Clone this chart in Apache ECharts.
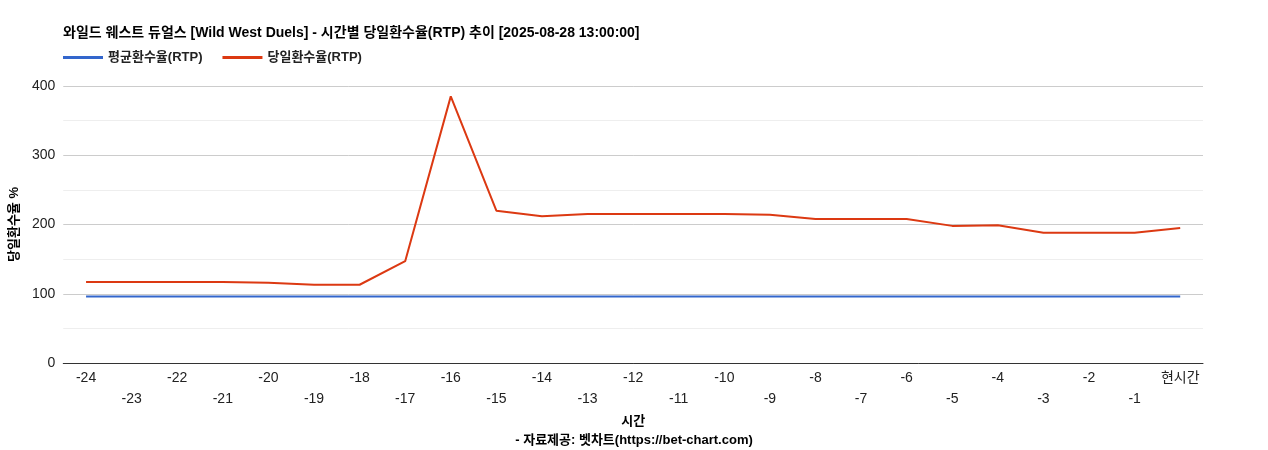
<!DOCTYPE html>
<html><head><meta charset="utf-8">
<script src="https://cdn.jsdelivr.net/npm/echarts@6/dist/echarts.min.js"></script>
<style>html,body{margin:0;padding:0;background:#fff}#c{width:1268px;height:450px}</style>
</head><body><div id="c"></div>
<script>
const categories = ['-24','-23','-22','-21','-20','-19','-18','-17','-16','-15','-14','-13','-12','-11','-10','-9','-8','-7','-6','-5','-4','-3','-2','-1','현시간'];
const avgRtp = [96,96,96,96,96,96,96,96,96,96,96,96,96,96,96,96,96,96,96,96,96,96,96,96,96];
const dailyRtp = [117,117,117,117,116,113,113,147,385,220,212,215,215,215,215,214,208,208,208,198,199,188,188,188,195];
const yTicks = [0,100,200,300,400];
const font = '"Liberation Sans", Arial, "Noto Sans CJK KR", sans-serif';
const chart = echarts.init(document.getElementById('c'));
chart.setOption({
  animation:false,
  textStyle:{fontFamily:font},
  title:[{text:'와일드 웨스트 듀얼스 [Wild West Duels] - 시간별 당일환수율(RTP) 추이 [2025-08-28 13:00:00]',left:58,top:21,textStyle:{fontSize:14,fontWeight:'bold',color:'#000',fontFamily:font}},
         {text:'- 자료제공: 벳차트(https://bet-chart.com)',left:'center',top:429,textStyle:{fontSize:13,fontWeight:'bold',color:'#000',fontFamily:font}}],
  legend:{left:58,top:46,itemWidth:40,itemHeight:3,itemGap:20,icon:'rect',textStyle:{fontSize:13,fontWeight:'bold',color:'#222',fontFamily:font},
    data:['평균환수율(RTP)','당일환수율(RTP)']},
  grid:{left:63,right:65,top:86,bottom:87},
  xAxis:{type:'category',data:categories,boundaryGap:true,name:'시간',nameLocation:'middle',nameGap:46,
    nameTextStyle:{fontSize:13,fontWeight:'bold',color:'#000'},
    axisLine:{lineStyle:{color:'#333'}},axisTick:{show:false},
    axisLabel:{interval:0,fontSize:14,color:'#222',margin:5,formatter:(v,i)=> i%2===0 ? v : '\n'+v ,lineHeight:21}},
  yAxis:{type:'value',min:0,max:400,interval:100,name:'당일환수율 %',nameLocation:'middle',nameGap:40,
    nameTextStyle:{fontSize:13,fontWeight:'bold',color:'#000'},
    axisLabel:{fontSize:14,color:'#222',formatter:v=>yTicks.includes(v)?String(v):''},
    splitLine:{lineStyle:{color:'#ccc'}},
    minorTick:{show:false,splitNumber:2},minorSplitLine:{show:true,lineStyle:{color:'#eee'}}},
  series:[
    {name:'평균환수율(RTP)',type:'line',data:avgRtp,showSymbol:false,lineStyle:{color:'#3366cc',width:2},itemStyle:{color:'#3366cc'}},
    {name:'당일환수율(RTP)',type:'line',data:dailyRtp,showSymbol:false,lineStyle:{color:'#dc3912',width:2},itemStyle:{color:'#dc3912'}}
  ]
});
</script></body></html>
